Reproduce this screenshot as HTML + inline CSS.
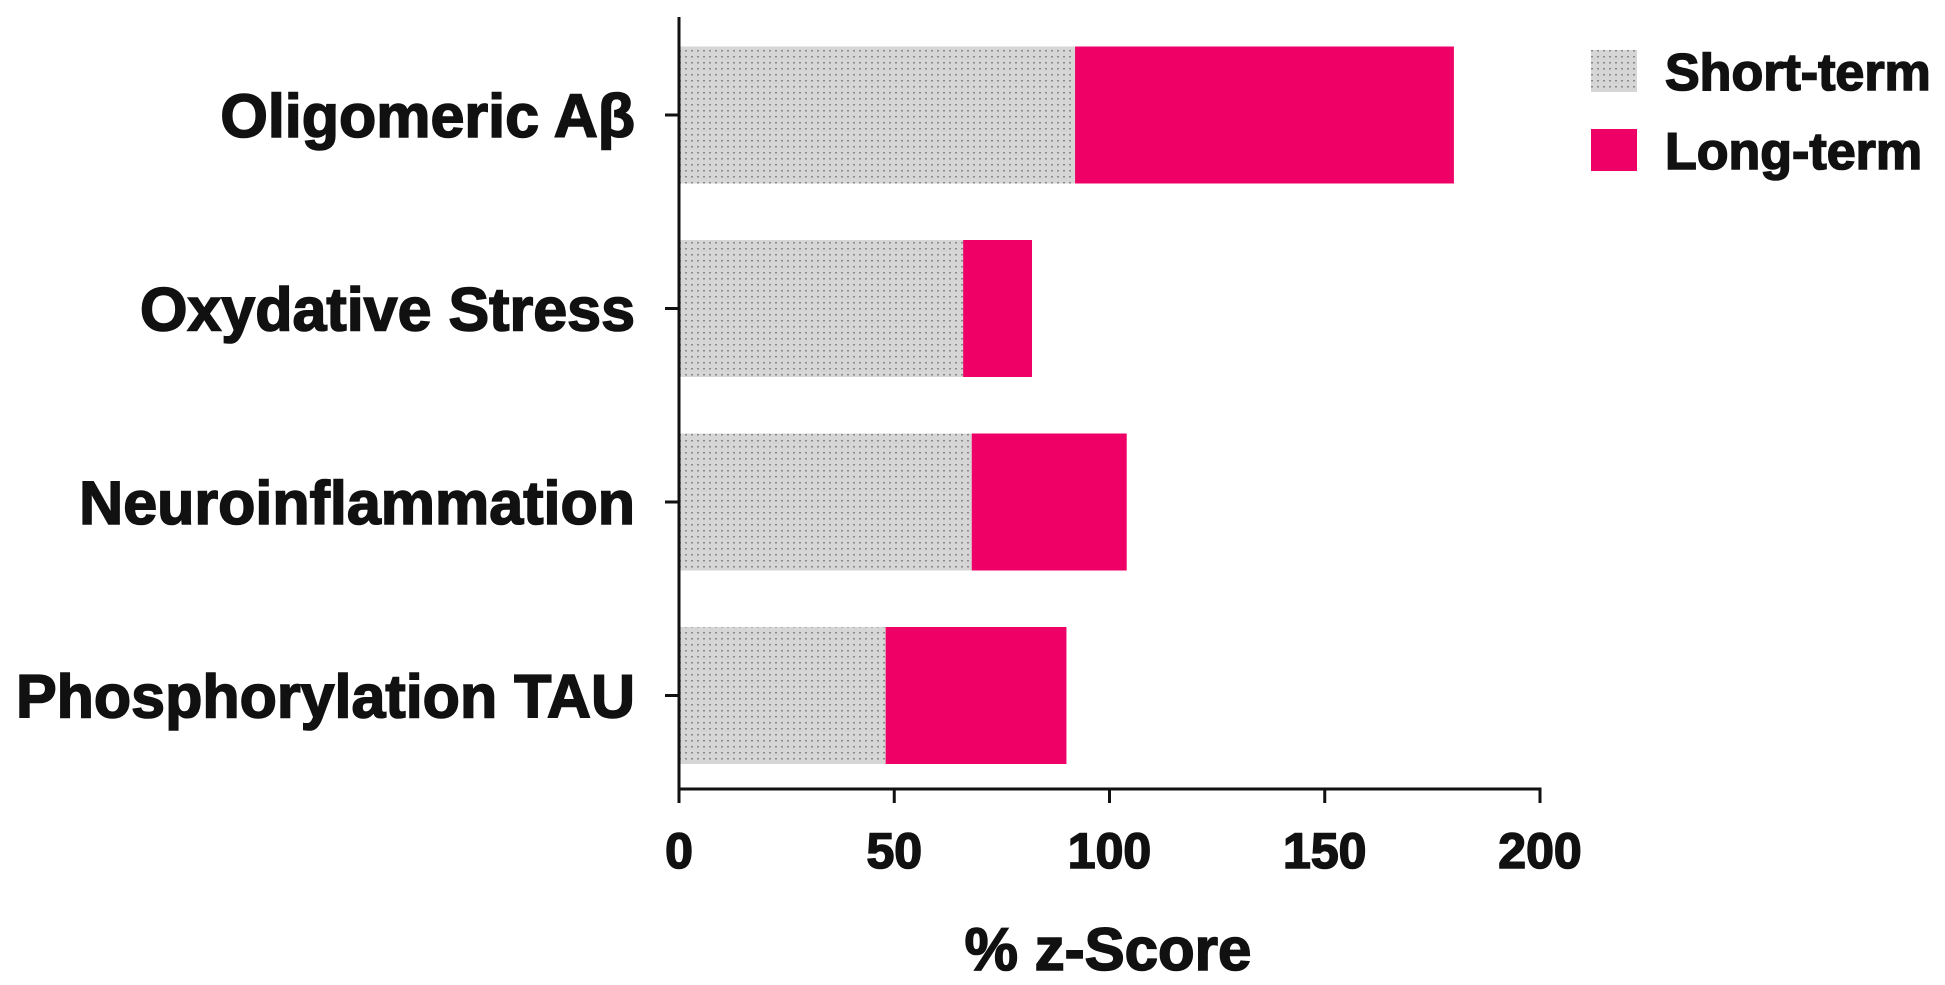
<!DOCTYPE html>
<html><head><meta charset="utf-8"><style>
html,body{margin:0;padding:0;background:#fff;}
svg{display:block;font-family:"Liberation Sans",Arial,sans-serif;font-weight:bold;}
.hv{stroke:#111;stroke-width:1.6;}
</style></head><body>
<svg id="chart" width="1945" height="985" viewBox="0 0 1945 985">
<defs>
<pattern id="dots" width="6" height="6" patternUnits="userSpaceOnUse">
<rect width="6" height="6" fill="#d6d6d6"/>
<rect x="1" y="2" width="2" height="1.5" fill="#8a8a8a"/>
</pattern>
</defs>
<g id="bars"></g>
<g id="axes"></g>
<text class="hv" x="1108" y="970" text-anchor="middle" font-size="60" fill="#111">% z-Score</text>
<g>
<rect x="1591" y="50" width="46" height="42" fill="url(#dots)"/>
<text class="hv" x="1665" y="90" font-size="52" fill="#111">Short-term</text>
<rect x="1591" y="129" width="46" height="42" fill="#ee0066"/>
<text class="hv" x="1665" y="169" font-size="52" fill="#111">Long-term</text>
</g>
</svg>
<script>
const categories = ["Oligomeric Aβ","Oxydative Stress","Neuroinflammation","Phosphorylation TAU"];
const shortTerm = [92, 66, 68, 48];
const longTerm = [88, 16, 36, 42];
const xTicks = [0, 50, 100, 150, 200];

const NS = "http://www.w3.org/2000/svg";
const x0 = 679, x1 = 1540, xMax = 200;
const yTop = 17, yBottom = 789;
const firstCenter = 115, step = 193.5, barH = 137;
const xs = v => x0 + (v / xMax) * (x1 - x0);
const yc = i => firstCenter + i * step;
function mk(tag, attrs, parent) {
  const e = document.createElementNS(NS, tag);
  for (const k in attrs) e.setAttribute(k, attrs[k]);
  parent.appendChild(e);
  return e;
}
const bars = document.getElementById("bars");
const axes = document.getElementById("axes");
categories.forEach((c, i) => {
  const y = yc(i) - barH / 2;
  const r1 = mk("rect", {x: xs(0), y: y, width: xs(shortTerm[i]) - xs(0), height: barH, fill: "url(#dots)"}, bars);
  
  
  const r2 = mk("rect", {x: xs(shortTerm[i]), y: y, width: xs(shortTerm[i] + longTerm[i]) - xs(shortTerm[i]), height: barH, fill: "#ee0066"}, bars);
  
  
  const tk = mk("line", {x1: x0 - 14, x2: x0, y1: yc(i), y2: yc(i), stroke: "#111", "stroke-width": 3}, axes);
  
  
  const t = mk("text", {x: 635, y: yc(i) + 22, "text-anchor": "end", "font-size": 61, fill: "#111", "class": "hv"}, axes);
  t.textContent = c;
  
  
});
const ya = mk("line", {x1: x0, x2: x0, y1: yTop, y2: yBottom + 1.5, stroke: "#111", "stroke-width": 3}, axes);


const xa = mk("line", {x1: x0 - 1.5, x2: x1 + 1.5, y1: yBottom, y2: yBottom, stroke: "#111", "stroke-width": 3}, axes);


xTicks.forEach(v => {
  const l = mk("line", {x1: xs(v), x2: xs(v), y1: yBottom, y2: yBottom + 14, stroke: "#111", "stroke-width": 3}, axes);
  
  
  const t = mk("text", {x: xs(v), y: 868, "text-anchor": "middle", "font-size": 50, fill: "#111", "class": "hv"}, axes);
  t.textContent = v;
  
  
});
</script>
</body></html>
